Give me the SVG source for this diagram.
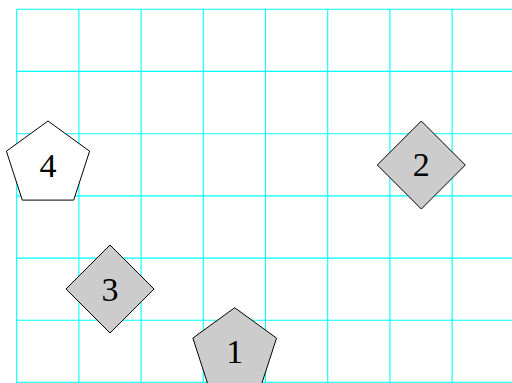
<svg xmlns="http://www.w3.org/2000/svg" width="512" height="383" viewBox="0 0 512 383">
<style>
.grid line{stroke:#00ffff;stroke-width:1.1}
.node{stroke:#000;stroke-width:1}
.gray{fill:#cccccc}
.white{fill:#ffffff}
.lbl{font-family:"Liberation Serif","Times New Roman",serif;font-size:34px;text-anchor:middle;fill:#000}
</style>
<rect width="512" height="383" fill="#fff"/>
<g class="grid" id="grid">
<line x1="16.7" y1="9.3" x2="16.7" y2="383"/>
<line x1="78.9" y1="9.3" x2="78.9" y2="383"/>
<line x1="141.1" y1="9.3" x2="141.1" y2="383"/>
<line x1="203.3" y1="9.3" x2="203.3" y2="383"/>
<line x1="265.5" y1="9.3" x2="265.5" y2="383"/>
<line x1="327.7" y1="9.3" x2="327.7" y2="383"/>
<line x1="389.9" y1="9.3" x2="389.9" y2="383"/>
<line x1="452.1" y1="9.3" x2="452.1" y2="383"/>
<line x1="16.7" y1="9.3" x2="512" y2="9.3"/>
<line x1="16.7" y1="71.4" x2="512" y2="71.4"/>
<line x1="16.7" y1="133.7" x2="512" y2="133.7"/>
<line x1="16.7" y1="195.9" x2="512" y2="195.9"/>
<line x1="16.7" y1="258.1" x2="512" y2="258.1"/>
<line x1="16.7" y1="320.3" x2="512" y2="320.3"/>
<line x1="16.7" y1="382.3" x2="512" y2="382.3"/>
</g>
<g id="connectors"></g>
<g id="node4">
<polygon class="node white" points="48,121 89.6,151.2 73.7,200.1 22.3,200.1 6.4,151.2"/>
<text class="lbl" x="48" y="176.5">4</text>
</g>
<g id="node1">
<polygon class="node gray" points="234.7,307.7 276.55,338.1 260.56,387.3 208.84,387.3 192.85,338.1"/>
<text class="lbl" x="234.7" y="362.5">1</text>
</g>
<g id="node2">
<polygon class="node gray" points="421.3,121 465.3,165 421.3,209 377.3,165"/>
<text class="lbl" x="421.3" y="175.8">2</text>
</g>
<g id="node3">
<polygon class="node gray" points="110,245 154,289 110,333 66,289"/>
<text class="lbl" x="110" y="301">3</text>
</g>
</svg>
